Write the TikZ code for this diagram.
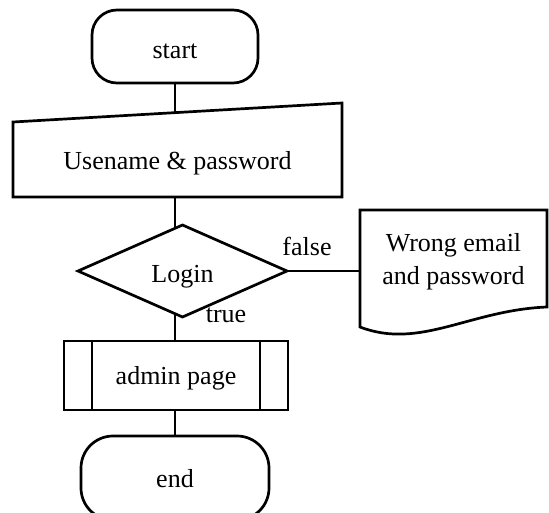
\documentclass[tikz,border=0pt]{standalone}
\usepackage{fontspec}
\setmainfont{Liberation Serif}
\usetikzlibrary{shapes.geometric,calc}
\begin{document}
\begin{tikzpicture}[x=1pt,y=-1pt,
  every node/.style={font=\fontsize{26}{33}\selectfont, inner sep=0pt, outer sep=0pt},
  flow/.style={line width=2.7pt, draw=black},
  terminal/.style={flow, rectangle, rounded corners=#1},
  decision/.style={flow, diamond},
  process/.style={flow, rectangle},
  baseline drop/.style={text height=#1, text depth=0pt}]
\useasboundingbox (0,0) rectangle (549,512);
\clip (0,0) rectangle (549,512);

% start terminal
\node[terminal=25pt, minimum width=166pt, minimum height=73pt, baseline drop=23pt] (start) at (175,46.5) {start};

% manual input (slanted top)
\node[minimum width=329pt, minimum height=75pt, baseline drop=19pt] (inp) at (177.5,159.5) {Usename \& password};
\coordinate (inpNE) at ($(inp.north east)+(0,-19)$);
\draw[flow] (inp.south west) -- (inp.north west) -- (inpNE) -- (inp.south east) -- cycle;
\coordinate (inptop) at ($(inp.north west)!0.492!(inpNE)$);

% decision
\node[decision, minimum width=209pt, minimum height=92pt, baseline drop=22pt] (login) at (182.5,271) {Login};
\coordinate (loginTL) at ($(login.west)!0.928!(login.north)$);
\coordinate (loginBL) at ($(login.west)!0.928!(login.south)$);
\node (lblfalse) at (307,246) {false};
\node (lbltrue) at (226,315) {true};

% document with wavy bottom
\node[minimum width=187pt, minimum height=103pt, align=center] (doc) at (453.5,261.5) {Wrong email\\and password};
\draw[flow] ($(doc.south west)+(0,14)$) -- (doc.north west) -- (doc.north east)
  -- ($(doc.south east)+(0,-6)$)
  .. controls ($(doc.south west)+(110,-3)$) and ($(doc.south west)+(60,37)$)
  .. ($(doc.south west)+(0,14)$) -- cycle;

% predefined process
\node[process, minimum width=224pt, minimum height=69pt, baseline drop=17pt] (admin) at (176,375.5) {admin page};
\draw[flow] ($(admin.north west)+(28,0)$) -- ($(admin.south west)+(28,0)$);
\draw[flow] ($(admin.north east)+(-28,0)$) -- ($(admin.south east)+(-28,0)$);

% end terminal
\node[terminal=32pt, minimum width=188pt, minimum height=84pt, baseline drop=18pt] (stop) at (175,478) {end};

% connectors
\draw[flow] (start.south) -- (start.south |- inptop);
\draw[flow] (inp.south -| loginTL) -- (loginTL);
\draw[flow] (login.east) -- (login.east -| doc.west);
\draw[flow] (loginBL) -- (loginBL |- admin.north);
\draw[flow] (admin.south -| stop.north) -- (stop.north);
\end{tikzpicture}
\end{document}
